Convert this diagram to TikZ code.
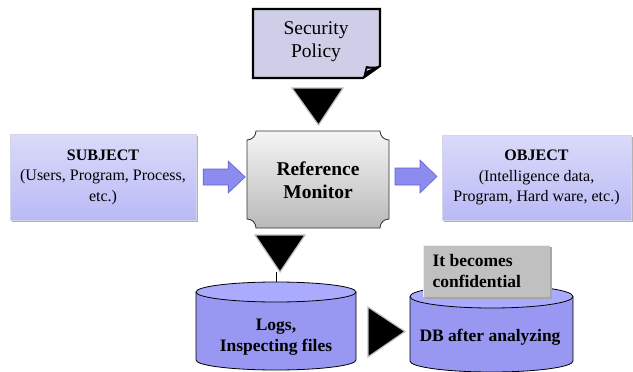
\documentclass[tikz,border=0pt]{standalone}
\usepackage{fontspec}
\setmainfont{Liberation Serif}[BoldFont={Liberation Serif Bold}]
\usetikzlibrary{calc}
\definecolor{lavtop}{RGB}{218,218,250}
\definecolor{lavbot}{RGB}{186,186,246}
\definecolor{polfill}{RGB}{206,206,232}
\definecolor{arrfill}{RGB}{140,140,240}
\definecolor{arrdraw}{RGB}{100,100,205}
\definecolor{cylbody}{RGB}{152,152,242}
\definecolor{cyltop}{RGB}{170,170,255}
\definecolor{lblgray}{RGB}{192,192,192}
\definecolor{rmtop}{RGB}{245,245,245}
\definecolor{rmbot}{RGB}{185,185,185}
\begin{document}
\begin{tikzpicture}[x=1pt,y=-1pt,
  lavbox/.style={draw=lavbot!80!black!40, top color=lavtop, bottom color=lavbot, minimum width=186pt, minimum height=86pt, align=center, inner sep=0pt, font=\fontsize{16}{20.5}\selectfont},
  blockarrow/.style={fill=arrfill, draw=arrdraw, line width=0.6pt, line join=miter},
  tri/.style={fill=black, draw=black!25, line width=1.2pt, line join=miter},
  cyl/.style={fill=cylbody, draw=black, line width=0.8pt},
  cyltxt/.style={font=\bfseries\fontsize{17.5}{20.5}\selectfont, align=center}]
\useasboundingbox (0,0) rectangle (633,372);
\fill[white] (0,0) rectangle (633,372);

% Security policy
\fill[polfill] (253,9) -- (380,9) -- (380,66) -- (363,78) -- (253,78) -- cycle;
\draw[line width=2.2pt, line join=miter] (363,78) -- (253,78) -- (253,9) -- (380,9) -- (380,66) -- cycle;
\fill[black] (363,78) .. controls (364,72) .. (366,66) .. controls (372,67) .. (380,66) -- cycle;
\fill[polfill] (366.5,71) -- (367.5,68.5) -- (372,68.5) -- cycle;
\node[font=\fontsize{19.5}{23}\selectfont, align=center] (policy) at (316,42) {Security\\Policy};

% Reference monitor
\def\rr{9}
\shade[top color=rmtop, bottom color=rmbot, draw=black!80, line width=0.8pt]
  (247+\rr,131) -- (389-\rr,131)
  .. controls (389-\rr,131+0.552*\rr) and (389-0.552*\rr,131+\rr) .. (389,131+\rr)
  -- (389,228-\rr)
  .. controls (389-0.552*\rr,228-\rr) and (389-\rr,228-0.552*\rr) .. (389-\rr,228)
  -- (247+\rr,228)
  .. controls (247+\rr,228-0.552*\rr) and (247+0.552*\rr,228-\rr) .. (247,228-\rr)
  -- (247,131+\rr)
  .. controls (247+0.552*\rr,131+\rr) and (247+\rr,131+0.552*\rr) .. (247+\rr,131) -- cycle;
\node[font=\bfseries\fontsize{19.5}{23.5}\selectfont, align=center] (monitor) at (318,180) {Reference\\Monitor};

% Subject / Object
\fill[black!30] (12,136) rectangle (198,222);
\node[lavbox] (subject) at (103,177) {\textbf{SUBJECT}\\(Users, Program, Process,\\etc.)};
\fill[black!30] (444,137) rectangle (633,222);
\node[lavbox, minimum width=189pt, minimum height=85pt] (object) at (536.5,177.5) {\textbf{OBJECT}\\(Intelligence data,\\Program, Hard ware, etc.)};

% block arrows
\draw[blockarrow] ($(subject.east)+(7,-8)$) -- ++(25,0) -- ++(0,-8) -- ++(17,16) -- ++(-17,16) -- ++(0,-8) -- ++(-25,0) -- cycle;
\draw[blockarrow] ($(monitor.center)+(77,-12)$) -- ++(25,0) -- ++(0,-8) -- ++(17,16.5) -- ++(-17,16.5) -- ++(0,-8) -- ++(-25,0) -- cycle;

% triangles
\draw[tri] (292,88) -- (343,88) -- (318.5,125) -- cycle;
\draw[tri] (255,235) -- (305,235) -- (280,272) -- cycle;
\draw[tri] (368,307) -- (405,331.5) -- (368,357) -- cycle;
\draw[line width=0.6pt] (276.5,272) -- (276.5,282);

% Logs cylinder
\draw[cyl] (196,292) -- (196,360) arc[start angle=180, end angle=0, x radius=80, y radius=10] -- (356,292);
\draw[cyl, fill=cyltop] (276,292) ellipse [x radius=80, y radius=10];
\node[cyltxt] (logs) at (276,337) {Logs,\\Inspecting files};

% DB cylinder
\draw[cyl] (410,296.5) -- (410,361) arc[start angle=180, end angle=0, x radius=81.5, y radius=11] -- (573,296.5);
\draw[cyl, fill=cyltop] (491.5,296.5) ellipse [x radius=81.5, y radius=11.5];
\node[cyltxt] (db) at (490,337) {DB after analyzing};

% label
\fill[black!35] (424.5,246.5) rectangle (551.5,298.5);
\fill[lblgray] (423,245) rectangle (550,297);
\draw[white!85!gray, line width=0.8pt] (423,297) -- (423,245) -- (550,245);
\node[cyltxt, align=left, anchor=west, font=\bfseries\fontsize{17.5}{21}\selectfont] (label) at (429,271.5) {It becomes\\confidential};
\end{tikzpicture}
\end{document}
